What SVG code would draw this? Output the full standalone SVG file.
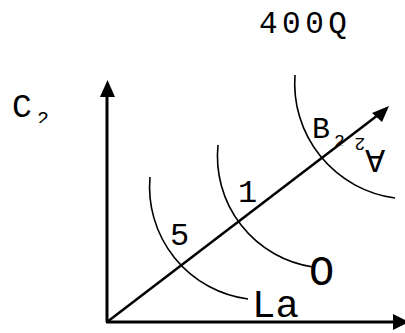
<svg xmlns="http://www.w3.org/2000/svg" width="405" height="333" viewBox="0 0 405 333">
<style>
.lbl{font-family:"Liberation Mono","Courier New",monospace;fill:#000}
.arc{fill:none;stroke:#000;stroke-width:1.6}
.axis{stroke:#000;stroke-width:3;fill:none}
.diag{stroke:#000;stroke-width:2.5;fill:none}
</style>
<defs>
<clipPath id="clipC"><rect x="30" y="100" width="30" height="23"/></clipPath>
<clipPath id="clipB"><rect x="330" y="125" width="20" height="21"/></clipPath>
</defs>
<rect width="405" height="333" fill="#fff"/>
<g id="connectors">
<line class="axis" x1="107" y1="322" x2="107" y2="95"/>
<polygon points="107.5,80 100,97 115,97"/>
<line class="axis" x1="106" y1="322" x2="394" y2="322"/>
<polygon points="409,322 393,314 393,330"/>
<line class="diag" x1="107" y1="322" x2="378" y2="115"/>
<polygon points="389,106 372,113 382,122"/>
</g>
<g id="curve-la"><path class="arc" d="M150,177 A113,113 0 0 0 248,299"/></g>
<g id="curve-o"><path class="arc" d="M218,145 A112,112 0 0 0 313,267"/></g>
<g id="curve-a"><path class="arc" d="M295,75 A115.5,115.5 0 0 0 395,198"/></g>
<g id="label-400q"><text class="lbl" x="259" y="33" font-size="31" letter-spacing="4.5">400Q</text></g>
<g id="label-c2"><text class="lbl" x="12" y="117" font-size="33">C</text><text class="lbl" x="37" y="125" font-size="20" clip-path="url(#clipC)">2</text></g>
<g id="label-5"><text class="lbl" x="170" y="245" font-size="32">5</text></g>
<g id="label-1"><text class="lbl" x="238" y="202" font-size="32">1</text></g>
<g id="label-o"><text class="lbl" x="309" y="285" font-size="42">O</text></g>
<g id="label-la"><text class="lbl" x="252" y="317" font-size="39">La</text></g>
<g id="label-b2"><text class="lbl" x="312" y="138" font-size="30">B</text><text class="lbl" x="334" y="147" font-size="18" clip-path="url(#clipB)">2</text></g>
<g id="label-a2"><text class="lbl" transform="translate(385,150) rotate(180)" font-size="33">A<tspan font-size="18" dy="12">2</tspan></text></g>
</svg>
